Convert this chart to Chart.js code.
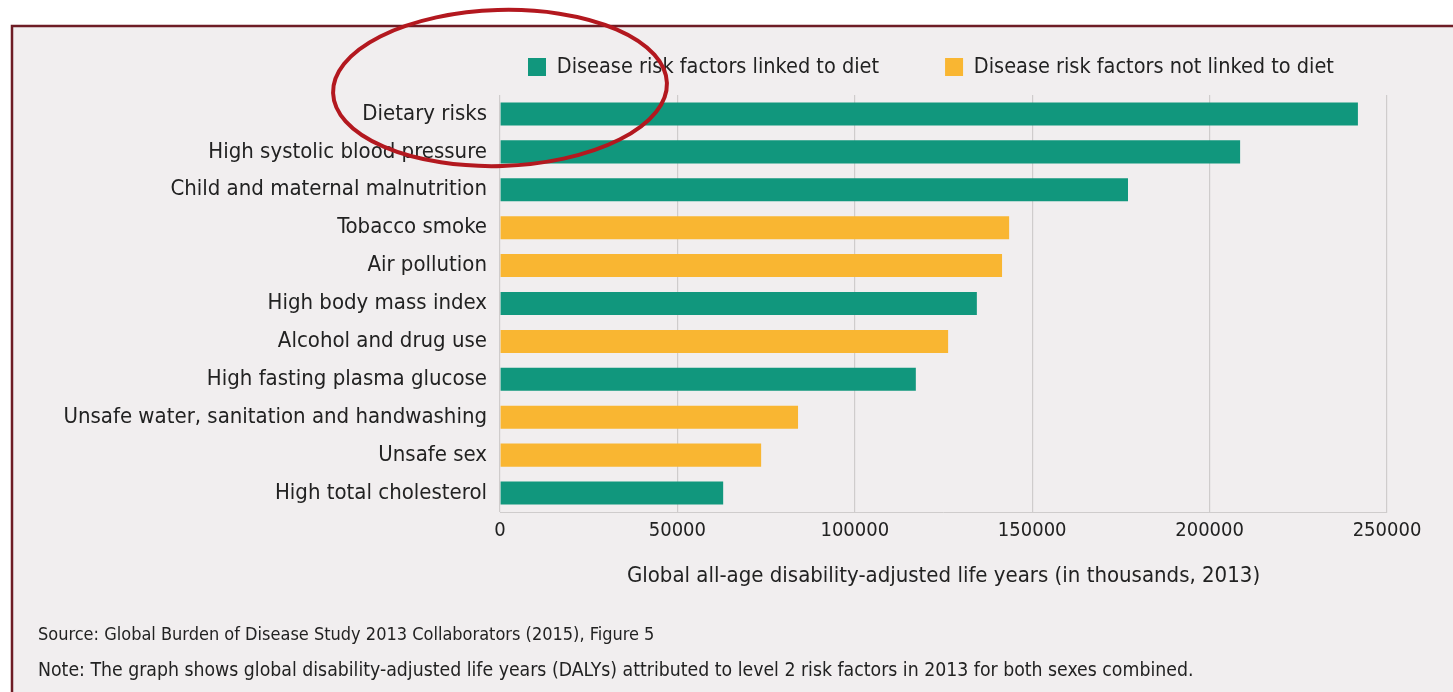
<!DOCTYPE html>
<html>
<head>
<meta charset="utf-8">
<script src="https://cdn.jsdelivr.net/npm/chart.js@4.4.1/dist/chart.umd.min.js"></script>
<style>
  html, body { margin: 0; padding: 0; background: #fff; }
  #wrap { position: relative; width: 1453px; height: 692px; overflow: hidden; }
  #chart { position: absolute; left: 0; top: 0; }
  .note { position: absolute; left: 38px; font-family: "Liberation Sans Narrow", "DejaVu Sans Condensed", sans-serif; font-size: 19.3px; color: #222; white-space: nowrap; }
</style>
</head>
<body>
<div id="wrap">
  <canvas id="chart" width="1453" height="692"></canvas>
  <div class="note" style="top:623px; font-size:18px">Source: Global Burden of Disease Study 2013 Collaborators (2015), Figure 5</div>
  <div class="note" style="top:658px">Note: The graph shows global disability-adjusted life years (DALYs) attributed to level 2 risk factors in 2013 for both sexes combined.</div>
</div>
<script>
// risk factors, top to bottom
const riskFactors = [
    'Dietary risks',
    'High systolic blood pressure',
    'Child and maternal malnutrition',
    'Tobacco smoke',
    'Air pollution',
    'High body mass index',
    'Alcohol and drug use',
    'High fasting plasma glucose',
    'Unsafe water, sanitation and handwashing',
    'Unsafe sex',
    'High total cholesterol'
];

// DALYs in thousands, split by whether the factor is linked to diet
const linkedToDiet = [241800, 208600, 177000, null, null, 134400, null, 117200, null, null, 62900];
const notLinkedToDiet = [null, null, null, 143500, 141500, null, 126300, null, 84000, 73600, null];

const xTicks = [0, 50000, 100000, 150000, 200000, 250000];

const fontFamily = '"Liberation Sans Narrow", "DejaVu Sans Condensed", sans-serif';
const textColor = '#222';
const legendFontSize = 21.5;

// Page background, red frame and the hand-drawn circle
const decorPlugin = {
    id: 'decor',
    beforeDraw(chart) {
        const ctx = chart.ctx;
        ctx.save();
        ctx.fillStyle = '#ffffff';
        ctx.fillRect(0, 0, chart.width, chart.height);
        ctx.fillStyle = '#f1eeef';
        ctx.fillRect(12, 26, chart.width, chart.height);
        ctx.strokeStyle = '#6e1c25';
        ctx.lineWidth = 2.5;
        ctx.strokeRect(12, 26, chart.width + 20, chart.height + 20);
        ctx.restore();
    },
    afterDraw(chart) {
        const ctx = chart.ctx;
        ctx.save();
        ctx.strokeStyle = '#b3181f';
        ctx.lineWidth = 4;
        ctx.beginPath();
        ctx.ellipse(500, 88, 167, 78, -0.03, 0, Math.PI * 2);
        ctx.stroke();
        ctx.restore();
    }
};

// move the legend so it sits over the plot like in the original
const legendShift = {
    id: 'legendShift',
    afterLayout(chart) {
        const lg = chart.legend;
        const pad = lg.options.labels.padding;
        const dx = 528 - (lg.left + pad);
        const dy = 67 - (lg.top + pad + legendFontSize / 2);
        lg.left += dx; lg.right += dx;
        lg.top += dy;
        lg.bottom = 95; // legend clips to its own box
    }
};

new Chart(document.getElementById('chart'), {
    type: 'bar',
    data: {
        labels: riskFactors,
        datasets: [{
            label: 'Disease risk factors linked to diet',
            data: linkedToDiet,
            backgroundColor: '#11977d',
            grouped: false
        }, {
            label: 'Disease risk factors not linked to diet',
            data: notLinkedToDiet,
            backgroundColor: '#f9b632',
            grouped: false
        }]
    },
    options: {
        indexAxis: 'y',
        responsive: false,
        animation: false,
        devicePixelRatio: 1,
        categoryPercentage: 0.8,
        barPercentage: 0.76,
        layout: { padding: { left: 0, right: 66, top: 53, bottom: 0 } },
        plugins: {
            tooltip: { enabled: false },
            legend: {
                position: 'top',
                align: 'start',
                maxHeight: 42,
                labels: {
                    boxWidth: 18,
                    boxHeight: 18,
                    padding: 66,
                    color: textColor,
                    font: { family: fontFamily, size: legendFontSize }
                }
            }
        },
        scales: {
            x: {
                min: 0,
                max: 250000,
                afterBuildTicks(scale) {
                    scale.ticks = xTicks.map(v => ({ value: v }));
                },
                afterFit(scale) { scale.height = 180; },
                grid: { color: '#cfcccc', lineWidth: 1.2, drawTicks: false },
                border: { display: true, color: '#cfcccc' },
                ticks: {
                    padding: 7,
                    color: textColor,
                    font: { family: fontFamily, size: 20 },
                    callback: v => String(v)
                },
                title: {
                    display: true,
                    text: 'Global all-age disability-adjusted life years (in thousands, 2013)',
                    color: textColor,
                    font: { family: fontFamily, size: 22 },
                    padding: { top: 0, bottom: 103 }
                }
            },
            y: {
                afterFit(scale) { scale.width = 500; },
                grid: { display: false, drawTicks: false },
                border: { display: false },
                ticks: {
                    padding: 13,
                    color: textColor,
                    font: { family: fontFamily, size: 22 }
                }
            }
        }
    },
    plugins: [decorPlugin, legendShift]
});
</script>
</body>
</html>
